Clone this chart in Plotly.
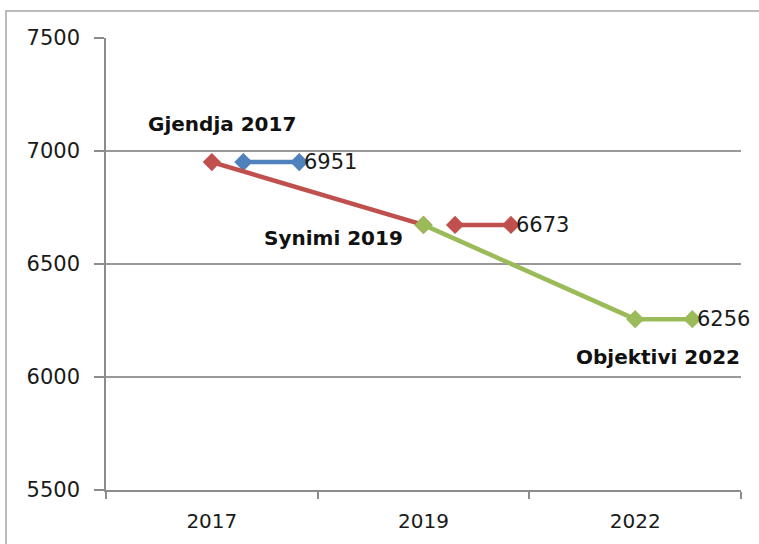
import plotly.graph_objects as go

# Data
categories = ["2017", "2019", "2022"]
gjendja_value = 6951
synimi_value = 6673
objektivi_value = 6256

# short horizontal segments (offset in category units from category centre)
blue_x = [0.149, 0.413]
blue_y = [gjendja_value, gjendja_value]
red_x = [0, 1]
red_y = [gjendja_value, synimi_value]
red_short_x = [1.149, 1.413]
red_short_y = [synimi_value, synimi_value]
green_x = [1, 2, 2.27]
green_y = [synimi_value, objektivi_value, objektivi_value]

labels = ["Gjendja 2017", "Synimi 2019", "Objektivi 2022"]
label_x = [0.048, 0.577, 2.108]
label_y = [7118, 6614, 6087]

BLUE = "#4F81BD"
RED = "#C0504D"
GREEN = "#9BBB59"
FONT = "DejaVu Sans"

fig = go.Figure()

def seg(x, y, color, value=None):
    fig.add_trace(go.Scatter(
        x=x, y=y, mode="lines+markers",
        line=dict(color=color, width=4.5),
        marker=dict(symbol="diamond", size=14, color=color),
        cliponaxis=False, showlegend=False, hoverinfo="skip"))
    if value is not None:
        fig.add_annotation(x=x[-1], y=y[-1], text=str(value), showarrow=False,
                           xanchor="left", xshift=3,
                           font=dict(family=FONT, size=21, color="#1a1a1a"))

seg(blue_x, blue_y, BLUE, gjendja_value)
seg(red_x, red_y, RED)
seg(red_short_x, red_short_y, RED, synimi_value)
seg(green_x, green_y, GREEN, objektivi_value)

for t, x, y in zip(labels, label_x, label_y):
    fig.add_annotation(x=x, y=y, text="<b>" + t + "</b>", showarrow=False,
                       font=dict(family=FONT, size=20, color="#111"))

fig.add_shape(type="rect", xref="paper", yref="paper",
              x0=-0.1575, x1=1.2, y0=-0.3, y1=1.0597,
              line=dict(color="#a6a6a6", width=1.5), layer="below")

fig.update_layout(
    width=759, height=544,
    margin=dict(l=106, r=18, t=38, b=54),
    paper_bgcolor="white", plot_bgcolor="white",
    font=dict(family=FONT, size=21, color="#1a1a1a"),
    xaxis=dict(range=[-0.5, 2.5], tickvals=[0, 1, 2], ticktext=categories,
               ticks="", showgrid=False, zeroline=False,
               showline=True, linecolor="#8c8c8c", linewidth=1.5,
               ticklabelstandoff=12, tickfont=dict(size=20),
               minor=dict(tickmode="array", tickvals=[-0.5, 0.5, 1.5, 2.5],
                          ticks="outside", ticklen=7, tickcolor="#8c8c8c",
                          tickwidth=1.5, showgrid=False)),
    yaxis=dict(range=[5500, 7500], tickvals=[5500, 6000, 6500, 7000, 7500],
               ticks="outside", ticklen=10, tickcolor="#8c8c8c", tickwidth=1.5,
               showgrid=True, gridcolor="#999999", gridwidth=1.5,
               zeroline=False, showline=True, linecolor="#8c8c8c", linewidth=1.5,
               ticklabelstandoff=10),
)

fig.write_html("out.html", config={"displayModeBar": False},
               post_script="document.body.style.margin='0';")
